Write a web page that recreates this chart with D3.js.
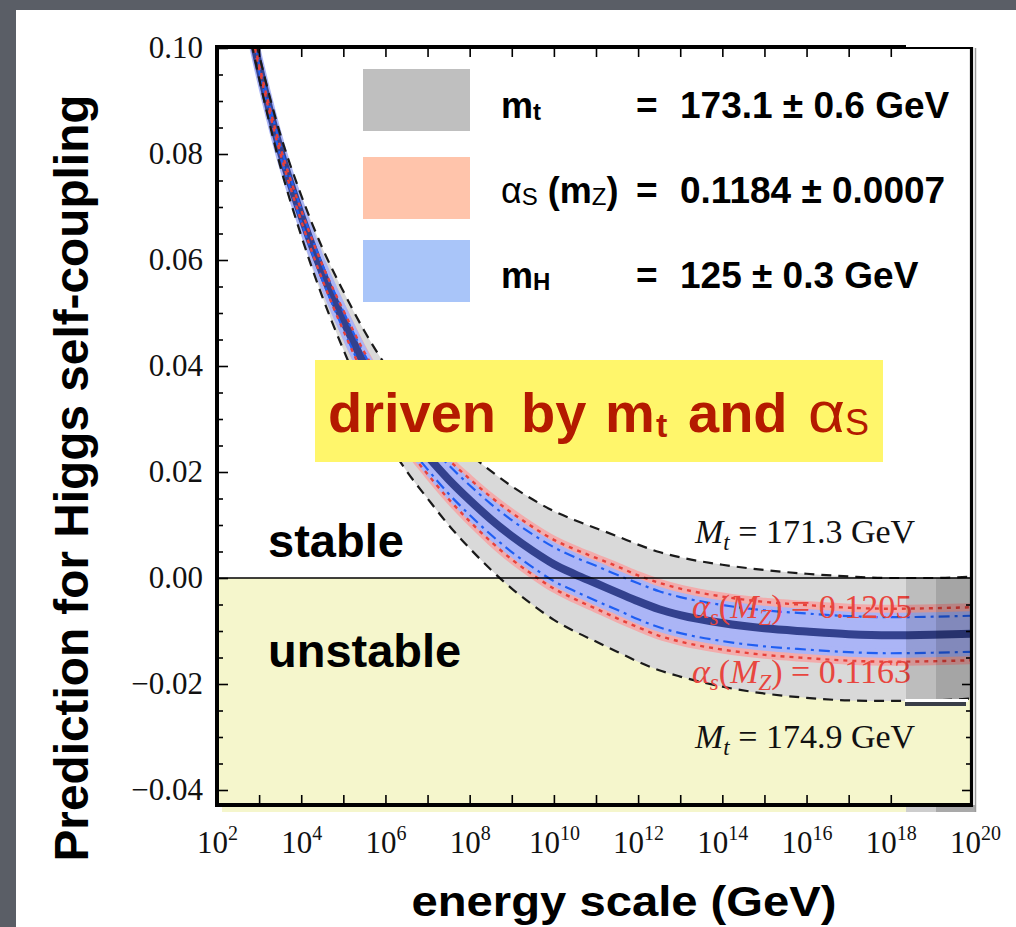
<!DOCTYPE html>
<html><head><meta charset="utf-8">
<script src="https://cdn.jsdelivr.net/npm/d3@7"></script>
<style>
html,body{margin:0;padding:0;background:#ffffff;overflow:hidden;width:1016px;height:927px;}
svg{display:block}
</style>
</head><body>
<svg id="chart" width="1016" height="927"></svg>
<script>
// ---- data ----
const energyExp = [2.5,3,3.5,4,4.5,5,5.5,6,6.5,7,7.5,8,8.5,9,9.5,10,10.5,11,11.5,12,12.5,13,14,15,16,17,18,19,20];
const lambdaCentral = [0.1150,0.0965,0.0808,0.0684,0.0577,0.0486,0.0403,0.0333,0.0277,0.0230,0.0186,0.0147,0.0111,0.0079,0.0051,0.0026,0.0007,-0.0010,-0.0027,-0.0044,-0.0059,-0.0070,-0.0085,-0.0095,-0.0101,-0.0106,-0.0108,-0.0107,-0.0105];
const lambdaMt1713 = [0.1165,0.0987,0.0838,0.0722,0.0623,0.0541,0.0466,0.0402,0.0351,0.0309,0.0269,0.0234,0.0202,0.0173,0.0148,0.0126,0.0109,0.0094,0.0079,0.0063,0.0049,0.0039,0.0025,0.0015,0.0008,0.0003,0.0000,0.0000,0.0003];
const lambdaMt1749 = [0.1135,0.0943,0.0778,0.0646,0.0531,0.0431,0.0340,0.0264,0.0202,0.0150,0.0100,0.0056,0.0016,-0.0020,-0.0051,-0.0079,-0.0101,-0.0120,-0.0139,-0.0158,-0.0174,-0.0186,-0.0205,-0.0218,-0.0226,-0.0231,-0.0232,-0.0231,-0.0227];
const lambdaAs1205 = [0.1152,0.0969,0.0814,0.0694,0.0591,0.0505,0.0426,0.0360,0.0308,0.0264,0.0223,0.0187,0.0153,0.0123,0.0096,0.0072,0.0054,0.0038,0.0022,0.0005,-0.0009,-0.0020,-0.0035,-0.0045,-0.0051,-0.0056,-0.0058,-0.0057,-0.0055];
const lambdaAs1163 = [0.1148,0.0961,0.0802,0.0674,0.0563,0.0467,0.0380,0.0306,0.0246,0.0196,0.0149,0.0107,0.0069,0.0035,0.0006,-0.0020,-0.0040,-0.0058,-0.0076,-0.0093,-0.0109,-0.0120,-0.0135,-0.0145,-0.0151,-0.0156,-0.0158,-0.0157,-0.0155];
const lambdaMhHigh = [0.1156,0.0973,0.0818,0.0696,0.0591,0.0503,0.0422,0.0354,0.0300,0.0255,0.0213,0.0175,0.0140,0.0109,0.0082,0.0058,0.0039,0.0023,0.0006,-0.0010,-0.0025,-0.0036,-0.0051,-0.0061,-0.0067,-0.0072,-0.0074,-0.0073,-0.0071];
const lambdaMhLow = [0.1144,0.0957,0.0798,0.0672,0.0563,0.0469,0.0384,0.0312,0.0254,0.0205,0.0159,0.0119,0.0082,0.0049,0.0020,-0.0006,-0.0025,-0.0043,-0.0060,-0.0078,-0.0093,-0.0104,-0.0119,-0.0129,-0.0135,-0.0140,-0.0142,-0.0141,-0.0139];

const yMajorTicks = [0.10,0.08,0.06,0.04,0.02,0.00,-0.02,-0.04];
const yMinorTicks = [0.095,0.09,0.085,0.075,0.07,0.065,0.055,0.05,0.045,0.035,0.03,0.025,0.015,0.01,0.005,-0.005,-0.01,-0.015,-0.025,-0.03,-0.035];
const rightMajorTicks = [-0.02,-0.04];
const rightMinorTicks = [-0.005,-0.01,-0.015,-0.025,-0.03,-0.035];
const xLabelExps = [2,4,6,8,10,12,14,16,18,20];
const xTickExps = [3,4,5,6,7,8,9,10,11,12,13,14,15,16,17,18];

const legendRows = [
  {main:"m", sub:"t", value:"173.1 ± 0.6 GeV"},
  {main:"α", sub:"S", value:"0.1184 ± 0.0007"},
  {main:"m", sub:"H", value:"125 ± 0.3 GeV"}
];
const legendColors = ["#bfbfbf","#ffc4ab","#a9c5f9"];

// ---- layout ----
const svg = d3.select("#chart");
const L = 217, R = 975, T = 48;
const x = d3.scaleLog().domain([1e2,1e20]).range([L,R]);
const y = d3.scaleLinear().domain([-0.04,0.10]).range([790,48]);
const frameRight = 971, frameBottom = 805;
const serif = "'Liberation Serif','Times New Roman',Times,serif";
const sans = "'Liberation Sans',Arial,Helvetica,sans-serif";

// slide background + white panel
svg.append("rect").attr("x",0).attr("y",0).attr("width",1016).attr("height",927).attr("fill","#5a5e66");
svg.append("rect").attr("x",16).attr("y",10).attr("width",1000).attr("height",917).attr("fill","#ffffff");

const defs = svg.append("defs");
defs.append("clipPath").attr("id","plotclip").append("rect")
  .attr("x",L).attr("y",T).attr("width",frameRight-L).attr("height",frameBottom-T);

// unstable region
svg.append("rect").attr("x",L).attr("y",y(0)).attr("width",frameRight-L).attr("height",frameBottom-y(0)).attr("fill","#f5f6cc");
svg.append("rect").attr("x",222).attr("y",frameBottom).attr("width",906-222).attr("height",7).attr("fill","#f5f6cc");
svg.append("rect").attr("x",906).attr("y",frameBottom).attr("width",30).attr("height",7).attr("fill","#cdcdcd");
svg.append("rect").attr("x",936).attr("y",frameBottom).attr("width",40).attr("height",7).attr("fill","#a9a9a9");

const pts = arr => energyExp.map((e,i)=>[e,arr[i]]);
const band = (hi,lo) => energyExp.map((e,i)=>[e,hi[i],lo[i]]);
const line = d3.line().x(d=>x(Math.pow(10,d[0]))).y(d=>y(d[1])).curve(d3.curveMonotoneX);
const area = d3.area().x(d=>x(Math.pow(10,d[0]))).y0(d=>y(d[2])).y1(d=>y(d[1])).curve(d3.curveMonotoneX);

const plot = svg.append("g").attr("clip-path","url(#plotclip)");

// bands
plot.append("path").attr("d",area(band(lambdaMt1713,lambdaMt1749))).attr("fill","#d9d9d9");
plot.append("path").attr("d",area(band(lambdaAs1205,lambdaAs1163))).attr("fill","#f2acac")
  .attr("stroke","#f2acac").attr("stroke-width",8).attr("stroke-linejoin","round");
plot.append("path").attr("d",area(band(lambdaMhHigh,lambdaMhLow))).attr("fill","#abb5f6")
  .attr("stroke","#abb5f6").attr("stroke-width",9).attr("stroke-linejoin","round");

// zero line
svg.append("line").attr("x1",L).attr("x2",frameRight).attr("y1",y(0)).attr("y2",y(0))
  .attr("stroke","#000").attr("stroke-width",1.5);

// curve labels (under the lines)
function curveLabel(xp, yp, color, parts){
  const t = svg.append("text").attr("x",xp).attr("y",yp).attr("font-family",serif)
    .attr("font-size",34).attr("fill",color);
  parts.forEach(p=>{
    const s = t.append("tspan").text(p.t);
    if(p.i) s.attr("font-style","italic");
    if(p.sub){ s.attr("font-size",23).attr("dy",p.dy); }
    else if(p.dy) s.attr("dy",p.dy);
  });
}
curveLabel(695,543,"#111",[{t:"M",i:1},{t:"t",i:1,sub:1,dy:7},{t:" = 171.3 GeV",dy:-7}]);
curveLabel(695,748,"#111",[{t:"M",i:1},{t:"t",i:1,sub:1,dy:7},{t:" = 174.9 GeV",dy:-7}]);
curveLabel(692,618,"#e8463f",[{t:"α",i:1},{t:"s",i:1,sub:1,dy:7},{t:"(",dy:-7},{t:"M",i:1},{t:"Z",i:1,sub:1,dy:7},{t:") = 0.1205",dy:-7}]);
curveLabel(692,683,"#e8463f",[{t:"α",i:1},{t:"s",i:1,sub:1,dy:7},{t:"(",dy:-7},{t:"M",i:1},{t:"Z",i:1,sub:1,dy:7},{t:") = 0.1163",dy:-7}]);

// lines
plot.append("path").attr("d",line(pts(lambdaCentral))).attr("fill","none").attr("stroke","#33418e").attr("stroke-width",8);
[lambdaMhHigh,lambdaMhLow].forEach(a=>plot.append("path").attr("d",line(pts(a))).attr("fill","none")
  .attr("stroke","#1f5ef2").attr("stroke-width",2.2).attr("stroke-dasharray","11,5,3,5"));
[lambdaAs1205,lambdaAs1163].forEach(a=>plot.append("path").attr("d",line(pts(a))).attr("fill","none")
  .attr("stroke","#e8413a").attr("stroke-width",2.4).attr("stroke-dasharray","4,5"));
[lambdaMt1713,lambdaMt1749].forEach(a=>plot.append("path").attr("d",line(pts(a))).attr("fill","none")
  .attr("stroke","#1a1a1a").attr("stroke-width",2.2).attr("stroke-dasharray","10,7"));

// composite overlay strips on the right
svg.append("rect").attr("x",906).attr("y",y(0)).attr("width",30).attr("height",699-y(0)).attr("fill","#000").attr("opacity",0.13);
svg.append("rect").attr("x",936).attr("y",y(0)).attr("width",frameRight-936).attr("height",699-y(0)).attr("fill","#000").attr("opacity",0.24);
svg.append("rect").attr("x",905).attr("y",699).attr("width",63).attr("height",3).attr("fill","#ffffff");
svg.append("rect").attr("x",905).attr("y",702).attr("width",61).attr("height",4).attr("fill","#3a3e48");

// stable / unstable
svg.append("text").attr("x",268).attr("y",557).attr("font-family",sans).attr("font-weight","bold").attr("font-size",47).text("stable");
svg.append("text").attr("x",268).attr("y",667).attr("font-family",sans).attr("font-weight","bold").attr("font-size",47).text("unstable");

// axes ticks
const styleAxis = g => { g.select(".domain").remove(); g.selectAll("line").attr("stroke","#000").attr("stroke-width",1.6); };
const fmt = d3.format(".2f");
svg.append("g").attr("transform",`translate(${L},0)`)
  .call(d3.axisLeft(y).tickValues(yMajorTicks).tickSize(-11).tickPadding(14).tickFormat(fmt))
  .call(styleAxis)
  .call(g=>g.selectAll("text").attr("font-family",serif).attr("font-size",31).attr("fill","#111"));
svg.append("g").attr("transform",`translate(${L},0)`)
  .call(d3.axisLeft(y).tickValues(yMinorTicks).tickSize(-6).tickFormat(()=>""))
  .call(styleAxis);
svg.append("g").attr("transform",`translate(${frameRight},0)`)
  .call(d3.axisRight(y).tickValues(rightMajorTicks).tickSize(-9).tickFormat(()=>""))
  .call(styleAxis);
svg.append("g").attr("transform",`translate(${frameRight},0)`)
  .call(d3.axisRight(y).tickValues(rightMinorTicks).tickSize(-5).tickFormat(()=>""))
  .call(styleAxis);
svg.append("g").attr("transform",`translate(0,${frameBottom})`)
  .call(d3.axisBottom(x).tickValues(xTickExps.map(e=>Math.pow(10,e))).tickSize(-10).tickFormat(()=>""))
  .call(styleAxis);
svg.append("g").attr("transform",`translate(0,${T-1})`)
  .call(d3.axisTop(x).tickValues(xTickExps.map(e=>Math.pow(10,e))).tickSize(-10).tickFormat(()=>""))
  .call(styleAxis);
// x labels with superscripts
const xl = svg.append("g").attr("transform",`translate(0,${frameBottom})`)
  .call(d3.axisBottom(x).tickValues(xLabelExps.map(e=>Math.pow(10,e))).tickSize(0).tickPadding(26).tickFormat(()=>"10"))
  .call(g=>g.select(".domain").remove());
xl.selectAll("text").attr("font-family",serif).attr("font-size",31).attr("fill","#111")
  .each(function(d){
    const t = d3.select(this); t.text(null);
    t.append("tspan").text("10");
    t.append("tspan").attr("dy",-13).attr("font-size",20).text(String(Math.round(Math.log10(d))));
  });

// frame
const fr = svg.append("g").attr("stroke","#000").attr("fill","none");
fr.append("line").attr("x1",L).attr("x2",L).attr("y1",45).attr("y2",807).attr("stroke-width",4);
fr.append("line").attr("x1",215).attr("x2",906).attr("y1",T-1).attr("y2",T-1).attr("stroke-width",4);
fr.append("line").attr("x1",906).attr("x2",973).attr("y1",T).attr("y2",T).attr("stroke-width",2.2);
fr.append("line").attr("x1",215).attr("x2",973).attr("y1",frameBottom).attr("y2",frameBottom).attr("stroke-width",4);
fr.append("line").attr("x1",frameRight+0.5).attr("x2",frameRight+0.5).attr("y1",T-1).attr("y2",807).attr("stroke-width",3.2);
fr.append("line").attr("x1",975.5).attr("x2",975.5).attr("y1",T).attr("y2",812).attr("stroke","#9a9a9a").attr("stroke-width",1.5);

// legend
const legendTop = [69,157,240];
legendRows.forEach((r,i)=>{
  svg.append("rect").attr("x",363).attr("y",legendTop[i]).attr("width",107).attr("height",62).attr("fill",legendColors[i]);
  const base = [118,203,288][i];
  const t = svg.append("text").attr("x",501).attr("y",base).attr("font-family",sans).attr("font-weight","bold").attr("font-size",36).attr("fill","#000");
  t.append("tspan").text(r.main).attr("font-weight", r.main==="α" ? "normal":"bold");
  t.append("tspan").text(r.sub).attr("font-size",24).attr("dy",2).attr("font-weight", r.main==="α" ? "normal":"bold");
  if(r.main==="α"){
    t.append("tspan").text(" (m").attr("dy",-2);
    t.append("tspan").text("Z").attr("font-size",24).attr("dy",2).attr("font-weight","normal");
    t.append("tspan").text(")").attr("dy",-2);
  }
  svg.append("text").attr("x",636).attr("y",base).attr("font-family",sans).attr("font-weight","bold").attr("font-size",37).text("=");
  svg.append("text").attr("x",680).attr("y",base).attr("font-family",sans).attr("font-weight","bold").attr("font-size",37).text(r.value);
});

// yellow callout
svg.append("rect").attr("x",315).attr("y",360).attr("width",568).attr("height",102).attr("fill","#fff66b");
const red = "#b41a00";
const callout = [
  {t:"driven",x:328,y:432,s:56,w:"bold"},
  {t:"by",x:521,y:432,s:56,w:"bold"},
  {t:"m",x:605,y:432,s:56,w:"bold"},
  {t:"t",x:656,y:437,s:34,w:"bold"},
  {t:"and",x:688,y:432,s:56,w:"bold"},
  {t:"α",x:808,y:432,s:58,w:"normal",len:37},
  {t:"S",x:845,y:435,s:36,w:"normal"}
];
callout.forEach(c=>{
  const t = svg.append("text").attr("x",c.x).attr("y",c.y).attr("font-family",sans).attr("font-weight",c.w)
    .attr("font-size",c.s).attr("fill",red).text(c.t);
  if(c.len) t.attr("textLength",c.len).attr("lengthAdjust","spacingAndGlyphs");
});

// axis titles
svg.append("text").attr("transform","translate(88,478) rotate(-90)").attr("text-anchor","middle")
  .attr("font-family",sans).attr("font-weight","bold").attr("font-size",48)
  .attr("textLength",767).attr("lengthAdjust","spacingAndGlyphs").text("Prediction for Higgs self-coupling");
svg.append("text").attr("x",624).attr("y",916).attr("text-anchor","middle")
  .attr("font-family",sans).attr("font-weight","bold").attr("font-size",42)
  .attr("textLength",425).attr("lengthAdjust","spacingAndGlyphs").text("energy scale (GeV)");
</script>
</body></html>
